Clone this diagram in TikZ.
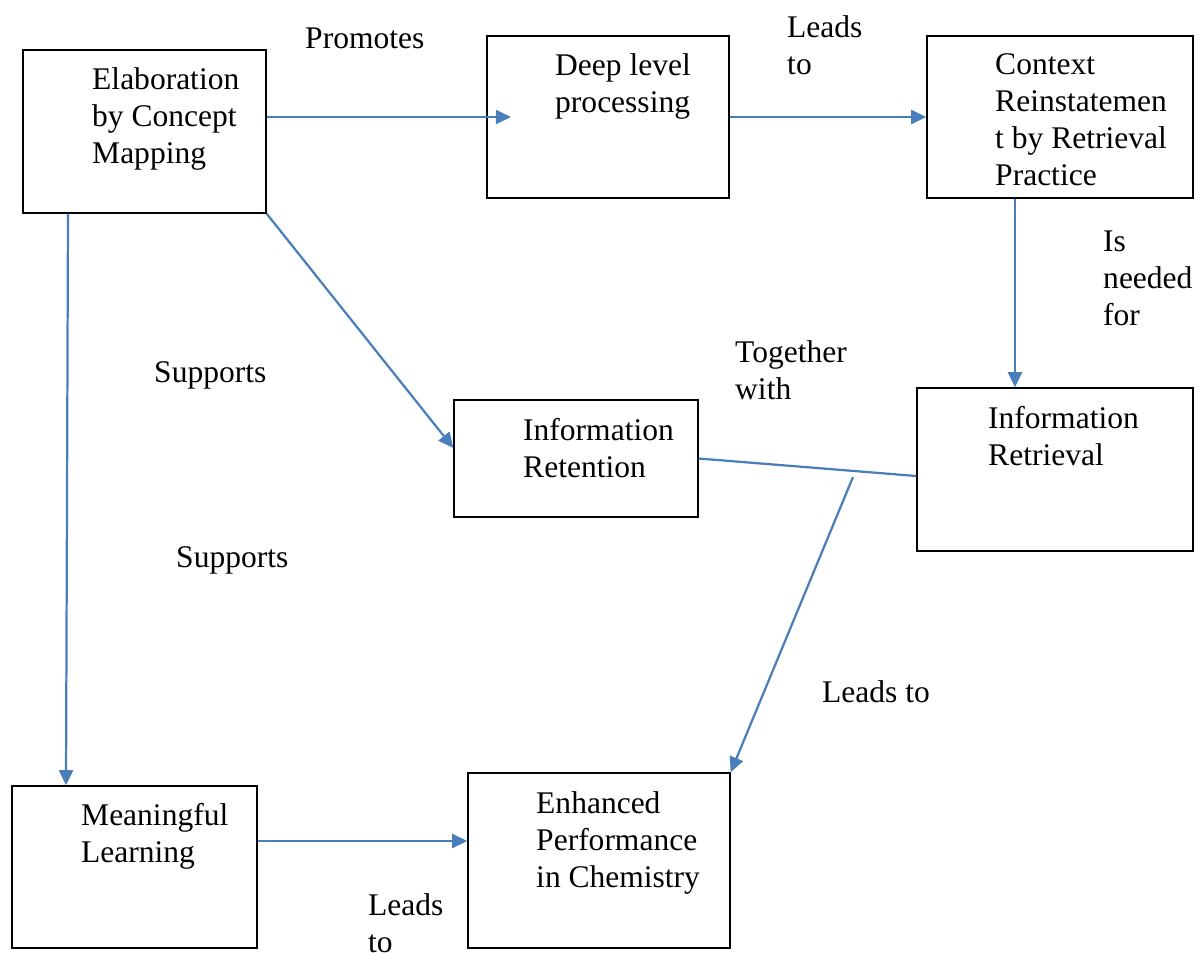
\documentclass[tikz,border=0pt]{standalone}
\usepackage{fontspec}
\setmainfont{Liberation Serif}
\newfontfamily\boxfont{Liberation Serif}
\usetikzlibrary{arrows.meta}
\definecolor{linkblue}{HTML}{4A7EBB}

\begin{document}
\begin{tikzpicture}[x=0.03cm,y=-0.03cm,
  box/.style={draw,line width=1.1pt,inner sep=0},
  txt/.style={anchor=north west,inner sep=0,align=left,
    font=\boxfont\fontsize{26.9}{31.6}\selectfont},
  link/.style={draw=linkblue,line width=1.9pt},
  arr/.style={link,-{Triangle[length=13pt,width=12pt]}}]
\useasboundingbox (0,0) rectangle (1198,953);

% boxes
\node[box,minimum width=7.29cm,minimum height=4.89cm] (elab) at (144.5,131.5) {};
\node[box,minimum width=7.26cm,minimum height=4.86cm] (deep) at (608,117) {};
\node[box,minimum width=7.98cm,minimum height=4.86cm] (context) at (1060,117) {};
\node[box,minimum width=7.32cm,minimum height=3.51cm] (ret) at (576,458.5) {};
\node[box,minimum width=8.28cm,minimum height=4.89cm] (retr) at (1055,469.5) {};
\node[box,minimum width=7.35cm,minimum height=4.86cm] (ml) at (134.5,867) {};
\node[box,minimum width=7.86cm,minimum height=5.25cm] (enh) at (599,860.5) {};

% box texts
\node[txt] (elabtxt) at (92,67.5) {Elaboration\\by Concept\\Mapping};
\node[txt] (deeptxt) at (555,53.5) {Deep level\\processing};
\node[txt] (contexttxt) at (995,53.5) {Context\\Reinstatemen\\t by Retrieval\\Practice};
\node[txt] (rettxt) at (523,418.5) {Information\\Retention};
\node[txt] (retrtxt) at (988,406.5) {Information\\Retrieval};
\node[txt] (mltxt) at (81,803.5) {Meaningful\\Learning};
\node[txt] (enhtxt) at (536,791.5) {Enhanced\\Performance\\in Chemistry};

% link labels
\node[txt] (promotes) at (305,27.5) {Promotes};
\node[txt] (leadsA) at (787,15.5) {Leads\\to};
\node[txt] (needed) at (1103,230.5) {Is\\needed\\for};
\node[txt] (together) at (735,340.5) {Together\\with};
\node[txt] (supportsA) at (154,361.5) {Supports};
\node[txt] (supportsB) at (176,546.5) {Supports};
\node[txt] (leadsB) at (822,680.5) {Leads to};
\node[txt] (leadsC) at (368,893.5) {Leads\\to};

% connectors
\coordinate (deeptip) at (511,117);
\coordinate (split) at (853,477);
\draw[arr] (elab.east |- deep) -- (deeptip);
\draw[arr] (deep.east) -- (context.west);
\draw[arr] (context.south -| 1015,0) -- (retr.north -| 1015,0);
\draw[arr] (elab.south -| 68,0) -- (ml.north -| 66,0);
\draw[arr] (elab.south east) -- (ret.west |- 0,448);
\draw[link] (ret.east) -- (retr.west |- 0,476);
\draw[arr] (split) -- (enh.north east);
\draw[arr] (ml.east |- 0,841) -- (enh.west |- 0,841);

\end{tikzpicture}
\end{document}
